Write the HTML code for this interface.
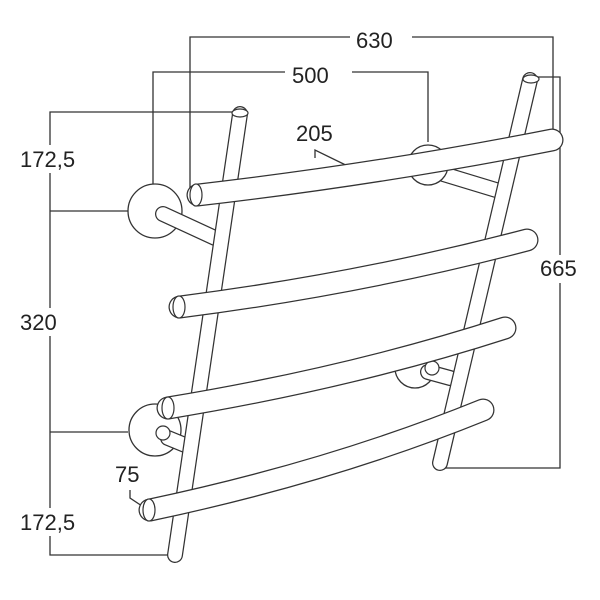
<!DOCTYPE html>
<html><head><style>
html,body{margin:0;padding:0;background:#fff;}
svg{display:block;}
text{font-family:"Liberation Sans",sans-serif;font-size:22px;fill:#222;}
</style></head><body>
<svg width="600" height="600" viewBox="0 0 600 600" xmlns="http://www.w3.org/2000/svg">
<g fill="none" stroke="#333" stroke-width="1.3">
<polyline points="190,190 190,37 350,37"/>
<polyline points="412,37 553,37 553,135"/>
<polyline points="153,185 153,72 285,72"/>
<polyline points="352,72 428,72 428,142"/>
<polyline points="530,77 560,77 560,468 437,468"/>
<polyline points="240,112 50,112 50,555 170,555"/>
<line x1="50" y1="211" x2="128" y2="211"/>
<line x1="50" y1="432" x2="128" y2="432"/>
<polyline points="315,158 315,150 360,172"/>
<polyline points="130,490 130,498 145,508"/>
</g>
<g fill="#fff">
<rect x="16" y="145" width="66" height="28"/>
<rect x="16" y="308" width="44" height="28"/>
<rect x="16" y="508" width="66" height="28"/>
<rect x="536" y="255" width="50" height="28"/>
</g>
<g stroke-linecap="round">
<line x1="430" y1="170" x2="496" y2="190" stroke="#333" stroke-width="16"/>
<line x1="430" y1="170" x2="496" y2="190" stroke="#fff" stroke-width="13.5"/>
<circle cx="428" cy="165" r="20" fill="#fff" stroke="#333" stroke-width="1.3"/>
<circle cx="415" cy="368" r="20" fill="#fff" stroke="#333" stroke-width="1.3"/>
<line x1="428" y1="372" x2="450" y2="378" stroke="#333" stroke-width="16"/>
<line x1="428" y1="372" x2="450" y2="378" stroke="#fff" stroke-width="13.5"/>
<circle cx="432" cy="368" r="7" fill="#fff" stroke="#333" stroke-width="1.2"/>
<circle cx="155" cy="211" r="27" fill="#fff" stroke="#333" stroke-width="1.3"/>
<line x1="163" y1="214" x2="215" y2="238" stroke="#333" stroke-width="16"/>
<line x1="163" y1="214" x2="215" y2="238" stroke="#fff" stroke-width="13.5"/>
<circle cx="155" cy="430" r="26" fill="#fff" stroke="#333" stroke-width="1.3"/>
<line x1="168" y1="438" x2="185" y2="445" stroke="#333" stroke-width="16"/>
<line x1="168" y1="438" x2="185" y2="445" stroke="#fff" stroke-width="13.5"/>
<circle cx="163" cy="433" r="7" fill="#fff" stroke="#333" stroke-width="1.2"/>
<line x1="240" y1="114" x2="175" y2="555" stroke="#333" stroke-width="16"/>
<line x1="240" y1="114" x2="175" y2="555" stroke="#fff" stroke-width="13.5"/>
<line x1="530" y1="80" x2="440" y2="463" stroke="#333" stroke-width="16"/>
<line x1="530" y1="80" x2="440" y2="463" stroke="#fff" stroke-width="13.5"/>
<g fill="none">
<path d="M198,195 Q380,174 552,140" stroke="#333" stroke-width="23"/>
<path d="M198,195 Q380,174 552,140" stroke="#fff" stroke-width="20.5"/>
<path d="M180,307 Q360,284 527,240" stroke="#333" stroke-width="23"/>
<path d="M180,307 Q360,284 527,240" stroke="#fff" stroke-width="20.5"/>
<path d="M168,408 Q350,378 505,328" stroke="#333" stroke-width="23"/>
<path d="M168,408 Q350,378 505,328" stroke="#fff" stroke-width="20.5"/>
<path d="M150,510 Q330,472 483,410" stroke="#333" stroke-width="23"/>
<path d="M150,510 Q330,472 483,410" stroke="#fff" stroke-width="20.5"/>
</g>
</g>
<g fill="#fff" stroke="#333" stroke-width="1.2">
<ellipse cx="240" cy="113" rx="8" ry="4"/>
<ellipse cx="531" cy="79" rx="8" ry="4"/>
<ellipse cx="196" cy="195" rx="6" ry="11"/>
<ellipse cx="179" cy="307" rx="6" ry="11"/>
<ellipse cx="168" cy="408" rx="6" ry="11"/>
<ellipse cx="149" cy="510" rx="6" ry="11"/>
</g>
<text x="356" y="48">630</text>
<text x="292" y="83">500</text>
<text x="296" y="141">205</text>
<text x="540" y="276">665</text>
<text x="20" y="167">172,5</text>
<text x="20" y="330">320</text>
<text x="20" y="530">172,5</text>
<text x="115" y="482">75</text>
</svg>
</body></html>
